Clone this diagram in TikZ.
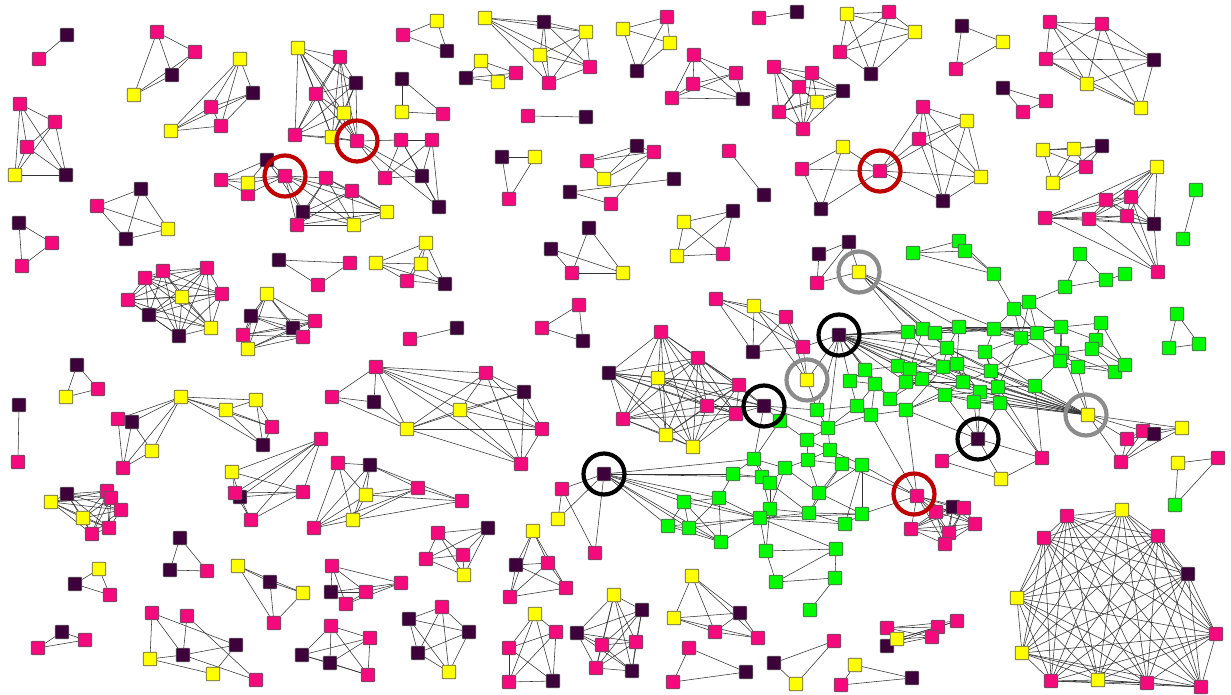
\documentclass[tikz,border=0pt]{standalone}
\usetikzlibrary{backgrounds}
\definecolor{pk}{RGB}{245,10,125}
\definecolor{dk}{RGB}{62,0,58}
\definecolor{yl}{RGB}{255,255,0}
\definecolor{gn}{RGB}{0,250,0}
\definecolor{ringred}{RGB}{190,0,0}
\definecolor{ringgray}{RGB}{140,140,140}
\newcommand\fullmesh[1]{%
  \foreach \a [count=\i] in {#1} {%
    \foreach \b [count=\j] in {#1} {%
      \ifnum\i<\j \draw[link] (\a) -- (\b);\fi}}}

\begin{document}
\begin{tikzpicture}[
    x=1pt, y=-1pt,
    nd/.style={rectangle, rounded corners=1pt, draw=black!65, line width=0.7pt, fill=#1, minimum size=13.6pt, inner sep=0pt},
    link/.style={draw=black!80, line width=0.55pt},
    ring/.style={circle, draw=#1, line width=4.2pt, minimum size=41pt, inner sep=0pt}
]
  \useasboundingbox (0,0) rectangle (1231,694);

  \foreach \n/\x/\y/\c in {
    k1a/67/35/dk, k1b/39/59/pk,
    k2a/157/32/pk, k2b/195/52/pk, k2c/172/75/dk, k2d/134/95/yl,
    k3a/240/59/yl, k3b/253/93/dk, k3c/211/107/pk, k3d/221/126/pk, k3e/171/131/yl,
    k4a/20/104/pk, k4b/55/122/pk, k4c/27/147/pk, k4d/15/175/yl, k4e/66/175/dk,
    k5a/141/189/dk, k5b/97/206/pk, k5c/168/229/yl, k5d/126/239/dk,
    k6a/298/48/yl, k6b/340/57/pk, k6c/356/83/dk, k6d/316/94/pk, k6e/344/113/yl, k6f/295/135/pk, k6g/332/137/yl,
    k6h/357/141/pk, k6i/401/140/pk, k6j/432/140/pk, k6k/385/178/pk, k6l/422/176/dk, k6m/439/207/dk,
    k7a/267/160/dk, k7b/285/176/pk, k7c/221/180/pk, k7e/248/194/pk, k7d/248/183/yl, k7f/303/212/dk,
    k7g/297/225/pk, k7h/326/178/pk, k7i/352/191/pk, k7j/387/212/yl, k7k/354/225/yl,
    k8a/437/21/yl, k8b/403/35/pk, k8c/447/51/dk,
    k9a/485/18/yl, k9b/544/22/dk, k9c/586/32/yl, k9d/540/55/yl, k9e/590/67/pk, k9f/549/83/pk,
    k10a/481/61/yl, k10b/516/73/pk, k10c/466/78/dk, k10d/498/82/yl,
    k11a/402/79/dk, k11b/402/112/yl, k11c/443/114/pk,
    k12a/528/116/pk, k12b/586/117/dk,
    k13a/502/157/dk, k13b/535/157/yl, k13c/509/199/pk,
    k14a/587/161/pk, k14b/604/179/yl, k14c/570/192/dk, k14d/611/204/pk, k14e/637/146/dk, k14f/654/152/pk, k14g/674/179/dk,
    k15a/667/17/pk, k15b/623/29/yl, k15c/670/43/yl, k15d/637/71/dk,
    k16a/694/55/pk, k16b/736/73/pk, k16c/693/84/pk, k16d/672/98/pk, k16e/743/99/dk,
    k17a/759/18/pk, k17b/797/12/dk,
    k18a/847/14/yl, k18b/889/12/pk, k18c/915/32/yl, k18d/840/52/pk, k18e/871/74/dk,
    k19a/774/67/pk, k19b/812/73/pk, k19c/799/87/pk, k19d/843/91/dk, k19e/817/102/yl, k19f/779/112/pk, k19g/803/129/pk,
    k20a/729/151/pk, k20b/764/195/dk,
    k21a/843/147/yl, k21b/802/169/pk, k21c/880/171/pk, k21d/821/209/dk, k21e/923/107/pk,
    k21f/967/121/yl, k21g/919/139/pk, k21h/981/177/yl, k21i/943/201/dk,
    k22a/962/26/dk, k22b/1003/42/yl, k22c/956/69/pk,
    k23a/1050/22/pk, k23b/1102/24/pk, k23c/1046/59/pk, k23d/1154/60/dk, k23e/1087/84/yl, k23f/1141/108/yl,
    k24a/1003/88/dk, k24b/1046/101/pk, k24c/1023/112/pk,
    k25a/1043/150/yl, k25b/1074/149/yl, k25c/1102/146/dk, k25d/1086/167/pk, k25e/1053/183/yl,
    k26a/1157/167/yl, k26b/1106/200/pk, k26c/1131/197/pk, k26d/1045/218/pk, k26e/1089/219/pk,
    k26f/1127/216/pk, k26g/1154/224/dk, k26h/1158/272/pk,
    k27a/1196/190/gn, k27b/1183/239/gn,
    k28a/19/223/dk, k28b/52/243/pk, k28c/22/266/pk,
    k30a/145/278/pk, k30b/163/271/pk, k30c/207/268/pk, k30d/128/300/pk, k30e/182/297/yl,
    k30f/222/294/pk, k30g/149/315/dk, k30h/211/328/yl, k30i/179/336/dk,
    k31a/267/294/yl, k31b/251/316/dk, k31c/243/335/pk, k31d/248/349/yl, k31e/293/328/dk, k31f/303/337/pk, k31g/315/321/pk,
    k32a/279/260/dk, k32b/350/263/pk, k32c/318/285/pk,
    k33a/77/365/dk, k33b/98/389/pk, k33c/66/397/yl,
    k34a/19/405/dk, k34b/18/462/pk,
    k35a/181/397/yl, k35b/118/419/pk, k35c/132/422/dk, k35d/152/451/yl, k35e/123/468/pk,
    k35f/226/410/yl, k35g/256/400/yl, k35h/272/427/pk, k35i/263/445/dk,
    k36a/426/243/yl, k36b/376/263/yl, k36c/421/264/yl, k36d/407/281/pk, k36e/445/284/dk,
    k37a/410/339/pk, k37b/457/328/dk,
    k38a/579/305/pk, k38b/542/328/pk, k38c/583/341/dk,
    k39a/551/249/dk, k39b/589/228/dk, k39c/572/273/pk, k39d/623/273/yl,
    k40a/684/222/yl, k40b/733/211/dk, k40c/677/256/yl, k40d/723/254/pk,
    k41a/376/367/pk, k41b/332/397/pk, k41c/374/402/dk, k41d/407/429/yl, k41e/486/373/pk,
    k41f/524/392/dk, k41g/460/410/yl, k41h/542/429/pk, k41i/521/464/pk,
    k42a/321/439/pk, k42b/232/472/yl, k42d/240/497/dk, k42c/235/493/pk, k42e/251/520/pk, k42f/303/492/pk,
    k42g/338/463/pk, k42h/370/465/dk, k42i/366/495/yl, k42j/353/520/yl, k42k/314/528/pk, k42l/418/488/pk, k42m/462/501/pk,
    k44a/819/254/dk, k44b/849/242/dk, k44c/817/283/pk, k44d/859/272/yl,
    k45a/716/299/pk, k45b/754/306/yl, k45c/786/317/pk, k45d/753/352/dk, k45e/803/347/pk, k45f/839/335/dk, k45g/807/380/yl,
    k46a/661/332/pk, k46b/609/373/dk, k46c/658/378/yl, k46d/698/358/pk, k46e/739/385/pk, k46f/707/406/pk,
    k46g/736/414/pk, k46h/764/406/dk, k46i/623/419/pk, k46j/666/435/yl, k46k/693/447/yl,
    k47a/1177/314/gn, k47b/1169/348/gn, k47c/1199/344/gn,
    k48a/1088/415/yl, k48b/1143/431/pk, k48c/1127/439/pk, k48d/1154/434/dk, k48e/1182/428/yl, k48f/1121/462/pk,
    k49a/1178/463/yl, k49b/1218/458/pk, k49c/1175/505/gn,
    k50a/1067/516/pk, k50b/1122/510/yl, k50c/1044/538/pk, k50d/1158/536/pk, k50e/1188/574/dk, k50f/1017/598/yl,
    k50g/1216/634/pk, k50h/1022/653/yl, k50i/1051/681/pk, k50j/1098/680/yl, k50k/1147/683/pk, k50l/1201/687/pk,
    k51a/917/496/pk, k51b/936/512/pk, k51c/953/507/dk, k51d/964/508/pk, k51e/975/524/pk, k51f/949/533/pk, k51g/945/544/pk, k51h/911/529/pk,
    k52a/887/628/pk, k52c/887/646/dk, k52b/897/639/yl, k52d/938/627/pk, k52e/957/621/pk, k52f/932/637/pk,
    k53a/614/595/yl, k53b/642/610/dk, k53c/636/642/pk, k53d/632/671/dk, k53e/577/633/dk, k53f/602/645/pk, k53g/596/668/pk,
    k54a/692/576/yl, k54b/674/618/yl, k54c/740/613/dk, k54d/715/632/pk, k54e/758/638/pk,
    k55a/689/648/pk, k55b/673/682/pk, k55c/746/672/dk,
    k56a/774/663/dk, k56b/796/684/yl, k56c/834/641/pk,
    k57a/855/665/yl, k57b/841/685/pk, k57c/912/678/dk,
    k58a/604/474/dk, k58b/562/489/pk, k58c/558/519/yl, k58d/595/553/pk,
    k59a/533/531/yl, k59b/516/565/dk, k59c/548/563/pk, k59d/566/588/pk, k59e/510/597/pk,
    k60a/438/533/pk, k60b/488/528/dk, k60c/426/559/pk, k60d/463/555/pk, k60e/464/575/yl,
    k61a/332/566/pk, k61b/331/592/dk, k61c/366/592/pk, k61d/346/604/pk, k61e/401/583/pk,
    k62a/238/566/yl, k62b/270/582/dk, k62c/303/593/yl, k62d/274/623/pk,
    k63a/331/626/pk, k63b/370/638/pk, k63c/302/655/dk, k63d/330/663/dk, k63e/368/675/pk,
    k64a/442/607/pk, k64b/409/619/dk, k64c/469/632/dk, k64d/418/653/dk, k64e/449/672/yl,
    k65a/535/614/yl, k65b/556/632/pk, k65c/509/648/pk, k65d/509/682/pk, k65e/553/681/dk,
    k66a/51/502/yl, k66b/67/494/dk, k66c/107/491/pk, k66d/111/498/pk, k66e/121/510/pk, k66f/83/518/yl, k66g/109/528/pk, k66h/92/534/pk,
    k67a/180/538/dk, k67b/170/570/dk, k67c/207/571/pk,
    k68a/99/569/yl, k68b/75/584/dk, k68c/110/595/pk,
    k69a/62/632/dk, k69b/85/640/pk, k69c/38/648/pk,
    k70a/152/613/pk, k70b/187/616/pk, k70c/236/645/dk, k70d/183/655/dk, k70e/150/659/yl, k70f/213/674/yl, k70g/256/680/pk,
    k71a/978/439/dk, k71b/942/461/pk, k71c/1042/458/pk, k71d/1001/479/yl}
    \node[nd=\c] (\n) at (\x,\y) {};

  \foreach \n/\x/\y in {
    g1/913/253, g2/959/241, g3/965/251, g4/994/274, g5/1080/254, g6/1065/287, g7/1106/280, g8/1125/274,
    g9/1014/309, g10/1029/302, g11/908/332, g12/923/329, g13/935/333, g14/959/327, g15/994/329,
    g16/1021/338, g17/1037/333, g18/1061/327, g19/1101/323, g20/1096/340, g21/1092/349,
    g22/947/348, g23/985/352, g24/1062/353, g25/1060/361, g26/1078/367, g27/1115/372, g28/1125/365,
    g29/943/367, g30/957/364, g31/991/371, g32/963/382, g33/922/379, g34/945/395, g35/980/392,
    g36/998/387, g37/974/402, g38/1000/403, g39/1035/386,
    g40/865/370, g41/850/381, g42/875/384, g43/898/366, g44/910/369, g45/906/382, g46/890/399,
    g47/857/406, g48/871/415, g49/906/410, g50/817/410, g51/780/421, g52/828/428, g53/807/440,
    g54/830/450, g55/754/459, g56/808/460, g57/842/464, g58/862/465, g59/733/474, g60/762/477,
    g61/770/483, g62/785/468, g63/819/493, g64/684/502, g65/719/498, g66/668/526, g67/689/528,
    g68/721/542, g69/770/509, g70/760/518, g71/809/513, g72/862/514, g73/845/524, g74/766/551,
    g75/836/549, g76/776/582, g77/835/578, g78/810/610}
    \node[nd=gn] (\n) at (\x,\y) {};

  \begin{scope}[on background layer]
    \fill[white] (0,0) rectangle (1231,694);
    \foreach \a/\b in {
      k1a/k1b, k12a/k12b, k17a/k17b, k20a/k20b, k27a/k27b, k34a/k34b, k37a/k37b,
      k6h/k6i, k6h/k6k, k6h/k6l, k6h/k6m, k6i/k6j, k6i/k6k, k6i/k6l, k6j/k6l, k6j/k6m, k6j/k6k, k6k/k6l, k6l/k6m, k6i/k6m,
      k7c/k7a, k7c/k7d, k7c/k7b, k7c/k7e, k7a/k7b, k7a/k7d, k7d/k7b, k7e/k7b, k7a/k7f,
      k14a/k14b, k14a/k14e, k14b/k14e, k14b/k14f, k14e/k14f, k14c/k14g, k14c/k14d, k14d/k14f, k14a/k14f,
      k26h/k26g, k26h/k26f, k26h/k26c, k26h/k26e, k26h/k26d,
      k35a/k35b, k35a/k35c, k35a/k35d, k35a/k35e, k35a/k35f, k35a/k35g, k35a/k35i, k35a/k35h,
      k35f/k35g, k35f/k35h, k35f/k35i, k35g/k35h, k35g/k35i, k35h/k35i, k35b/k35c, k35b/k35e, k35c/k35d, k35c/k35e, k35d/k35e,
      k39a/k39c, k39a/k39d, k39b/k39c, k39b/k39d, k39c/k39d,
      k41a/k41b, k41a/k41c, k41a/k41d, k41a/k41e, k41a/k41f, k41a/k41g, k41a/k41h, k41a/k41i,
      k41b/k41c, k41b/k41d, k41c/k41d,
      k42a/k42b, k42a/k42c, k42a/k42d, k42a/k42e, k42a/k42f, k42b/k42f, k42b/k42c, k42b/k42d, k42c/k42d,
      k42c/k42e, k42d/k42e, k42d/k42f, k42e/k42f, k42c/k42f,
      k42g/k42h, k42g/k42i, k42g/k42j, k42g/k42k, k42h/k42i, k42h/k42j, k42h/k42l, k42h/k42m, k42i/k42j,
      k42i/k42k, k42i/k42l, k42j/k42k, k42j/k42l, k42j/k42m, k42k/k42h, k42l/k42m, k42i/k42m, k42k/k42l,
      k44a/k44b, k44a/k44c, k44b/k44c, k44b/k44d, k44c/k44d,
      k45a/k45b, k45a/k45c, k45a/k45e, k45a/k45d, k45b/k45d, k45b/k45e, k45c/k45d, k45c/k45e, k45d/k45e,
      k45e/k45f, k45g/k45c, k45g/k45e, k45g/k45b, k45g/k45f,
      k46h/k46e, k46h/k46f, k46h/k46g, k46h/k46b, k46h/k46c, k46h/k46d,
      k48a/k48b, k48a/k48c, k48a/k48e, k48a/k48f, k48b/k48c, k48b/k48d, k48b/k48e, k48b/k48f,
      k48c/k48d, k48c/k48f, k48d/k48e, k48d/k48f, k48e/k48f,
      k52a/k52d, k52a/k52e, k52a/k52f, k52b/k52d, k52b/k52e, k52b/k52f, k52c/k52d, k52c/k52f,
      k52a/k52b, k52b/k52c, k52d/k52e, k52d/k52f,
      k58a/k58b, k58a/k58c, k58a/k58d, k58b/k58c, k58b/k58d,
      k70a/k70e, k70a/k70c, k70a/k70d, k70b/k70d, k70b/k70g, k70e/k70d, k70e/k70f, k70d/k70c, k70d/k70g, k70c/k70f,
      k71a/k71b, k71a/k71c, k71a/k71d, k71b/k71d, k71c/k71d}
      \draw[link] (\a) -- (\b);
    \foreach \a/\b in {
      g1/g2, g1/g3, g1/g4, g2/g3, g2/g4, g3/g4, g4/g9, g9/g10, g10/g6, g5/g6, g5/g7, g6/g7, g7/g8,
      g9/g15, g9/g16, g9/g17, g10/g16, g10/g17, g10/g18,
      g11/g12, g11/g13, g12/g13, g11/g14, g12/g14, g13/g14, g13/g15, g14/g15, g14/g16, g15/g16, g15/g17,
      g16/g17, g17/g18, g16/g18, g12/g18, g13/g18, g14/g18, g15/g18, g11/g15,
      g18/g19, g18/g20, g18/g24, g18/g25, g19/g20, g19/g21, g20/g21, g21/g24, g24/g25, g25/g26, g26/g27,
      g26/g28, g27/g28, g21/g27, g21/g28, g20/g28, g24/g26, g24/g27, g17/g24, g17/g25, g16/g25, g19/g28,
      g22/g23, g22/g29, g22/g30, g23/g31, g29/g30, g30/g31, g29/g32, g30/g32, g31/g32, g32/g35, g29/g33,
      g33/g34, g34/g35, g34/g37, g35/g36, g35/g37, g36/g38, g37/g38, g36/g39, g31/g36, g23/g36, g15/g23,
      g14/g22, g13/g22, g12/g22, g11/g29, g16/g23, g17/g31, g24/g31, g16/g36, g32/g34, g30/g35, g22/g31,
      g14/g30, g23/g39, g31/g39, g39/g25,
      g40/g41, g40/g42, g41/g42, g43/g44, g44/g45, g43/g45, g42/g46, g45/g46, g41/g47, g47/g48, g46/g49,
      g48/g49, g42/g47, g40/g43, g44/g33, g45/g33, g43/g11, g44/g12, g49/g34, g46/g33, g29/g45, g49/g29,
      g42/g48, g43/g29, g44/g22, g45/g32, g49/g32,
      g50/g52, g48/g52, g52/g53, g52/g54, g53/g54, g54/g57, g54/g58, g53/g56, g56/g57, g54/g56, g52/g47,
      g50/g47, g51/g53, g51/g55,
      g55/g60, g55/g61, g55/g62, g60/g61, g61/g62, g62/g56, g59/g60, g59/g55, g62/g63, g56/g63, g57/g63,
      g58/g63, g60/g69, g61/g69, g69/g70, g63/g71, g71/g72, g71/g73, g72/g73, g63/g72, g58/g72, g69/g71,
      g70/g74, g69/g74, g74/g75, g70/g75, g75/g77, g74/g76, g76/g77, g77/g78, g61/g71, g57/g71, g70/g71,
      g70/g72, g70/g73, g75/g76, g62/g69, g58/g73,
      g64/g65, g64/g66, g64/g67, g65/g67, g65/g68, g66/g67, g67/g68, g64/g68, g66/g68, g65/g59, g68/g70,
      g65/g70, g67/g70, g64/g70, g66/g70,
      k44d/g11, k44d/g12, k44d/g13, k44d/g14, k44d/g22, k44d/g16,
      k45f/g40, k45f/g41, k45f/g42, k45f/g43, k45f/g44, k45f/g45, k45f/g46, k45f/g11, k45f/g12, k45f/g22,
      k45f/g29, k45f/g30, k45f/g33, k45f/g52, k45f/g50, k45f/k48a, k45f/g32, k45f/g14, k45f/g13,
      k46h/g51, k46h/g50, k46h/g52, k46h/g55,
      k71a/g37, k71a/g38, k71a/g34, k71a/g35, k71a/g49,
      k48a/g30, k48a/g32, k48a/g33, k48a/g35, k48a/g36, k48a/g38, k48a/g39, k48a/g45, k48a/g44, k48a/g29,
      k48a/g22, k48a/g24, k48a/g26, k48a/g31, k48a/g37, k48a/g34,
      k71c/g36, k71c/g38, k71c/g39,
      k51a/g57, k51a/g58, k51a/g72, k51a/g49, k51a/g48,
      k58a/g59, k58a/g60, k58a/g64, k58a/g65, k58a/g66, k58a/g67, k58a/g68, k58a/g70, k58a/g55,
      k45g/g50}
      \draw[link] (\a) -- (\b);
    \fullmesh{k2a,k2b,k2c,k2d}
    \fullmesh{k3a,k3b,k3c,k3d,k3e}
    \fullmesh{k4a,k4b,k4c,k4d,k4e}
    \fullmesh{k5a,k5b,k5c,k5d}
    \fullmesh{k6a,k6b,k6c,k6d,k6e,k6f,k6g,k6h}
    \fullmesh{k7b,k7f,k7g,k7h,k7i,k7j,k7k}
    \fullmesh{k8a,k8b,k8c}
    \fullmesh{k9a,k9b,k9c,k9d,k9e,k9f}
    \fullmesh{k10a,k10b,k10c,k10d}
    \fullmesh{k11a,k11b,k11c}
    \fullmesh{k13a,k13b,k13c}
    \fullmesh{k15a,k15b,k15c,k15d}
    \fullmesh{k16a,k16b,k16c,k16d,k16e}
    \fullmesh{k18a,k18b,k18c,k18d,k18e}
    \fullmesh{k19a,k19b,k19c,k19d,k19e,k19f,k19g}
    \fullmesh{k21a,k21b,k21c,k21d}
    \fullmesh{k21c,k21e,k21f,k21g,k21h,k21i}
    \fullmesh{k22a,k22b,k22c}
    \fullmesh{k23a,k23b,k23c,k23d,k23e,k23f}
    \fullmesh{k24a,k24b,k24c}
    \fullmesh{k25a,k25b,k25c,k25d,k25e}
    \fullmesh{k26a,k26b,k26c,k26d,k26e,k26f,k26g}
    \fullmesh{k28a,k28b,k28c}
    \fullmesh{k30a,k30b,k30c,k30d,k30e,k30f,k30g,k30h,k30i}
    \fullmesh{k31a,k31b,k31c,k31d,k31e,k31f,k31g}
    \fullmesh{k32a,k32b,k32c}
    \fullmesh{k33a,k33b,k33c}
    \fullmesh{k36a,k36b,k36c,k36d,k36e}
    \fullmesh{k38a,k38b,k38c}
    \fullmesh{k40a,k40b,k40c,k40d}
    \fullmesh{k41d,k41e,k41f,k41g,k41h,k41i}
    \fullmesh{k46a,k46b,k46c,k46d,k46e,k46f,k46g,k46i,k46j,k46k}
    \fullmesh{k47a,k47b,k47c}
    \fullmesh{k49a,k49b,k49c}
    \fullmesh{k50a,k50b,k50c,k50d,k50e,k50f,k50g,k50h,k50i,k50j,k50k,k50l}
    \fullmesh{k51a,k51b,k51c,k51d,k51e,k51f,k51g,k51h}
    \fullmesh{k53a,k53b,k53c,k53d,k53e,k53f,k53g}
    \fullmesh{k54a,k54b,k54c,k54d,k54e}
    \fullmesh{k55a,k55b,k55c}
    \fullmesh{k56a,k56b,k56c}
    \fullmesh{k57a,k57b,k57c}
    \fullmesh{k59a,k59b,k59c,k59d,k59e}
    \fullmesh{k60a,k60b,k60c,k60d,k60e}
    \fullmesh{k61a,k61b,k61c,k61d,k61e}
    \fullmesh{k62a,k62b,k62c,k62d}
    \fullmesh{k63a,k63b,k63c,k63d,k63e}
    \fullmesh{k64a,k64b,k64c,k64d,k64e}
    \fullmesh{k65a,k65b,k65c,k65d,k65e}
    \fullmesh{k66a,k66b,k66c,k66d,k66e,k66f,k66g,k66h}
    \fullmesh{k67a,k67b,k67c}
    \fullmesh{k68a,k68b,k68c}
    \fullmesh{k69a,k69b,k69c}
  \end{scope}

  \node[ring=ringred] (hot1) at (k6h) {};
  \node[ring=ringred] (hot2) at (k7b) {};
  \node[ring=ringred] (hot3) at (k21c) {};
  \node[ring=ringred] (hot4) at ([xshift=-3pt,yshift=2pt]k51a) {};
  \node[ring=black] (hub1) at (k45f) {};
  \node[ring=black] (hub2) at (k46h) {};
  \node[ring=black] (hub3) at (k71a) {};
  \node[ring=black] (hub4) at (k58a) {};
  \node[ring=ringgray] (mid1) at (k44d) {};
  \node[ring=ringgray] (mid2) at (k45g) {};
  \node[ring=ringgray] (mid3) at ([xshift=-2pt]k48a) {};
\end{tikzpicture}
\end{document}
